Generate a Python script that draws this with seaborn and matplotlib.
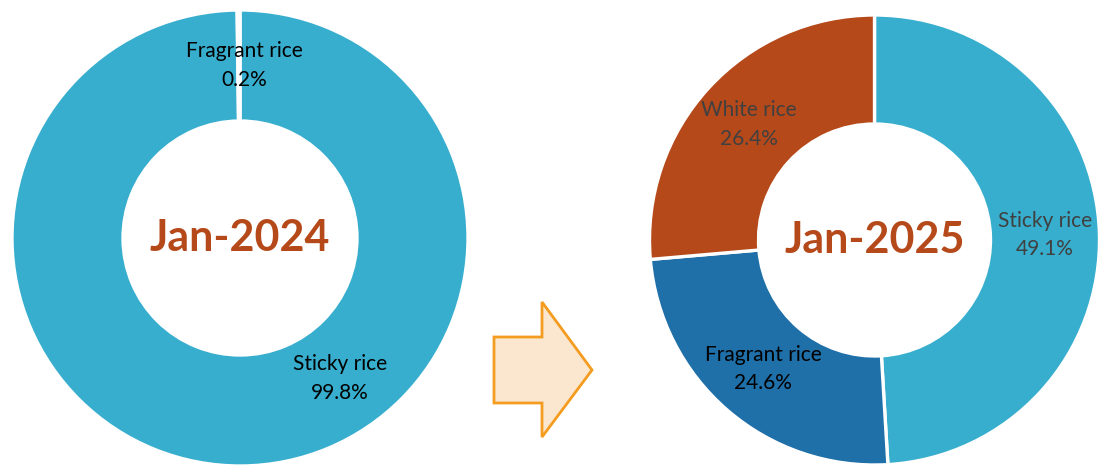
import numpy as np
import matplotlib
matplotlib.use("Agg")
import matplotlib.pyplot as plt
import seaborn as sns
from matplotlib.patches import Polygon

sns.set_theme(style="white")
plt.rcParams['font.family'] = ['Lato', 'DejaVu Sans']

# data
months = ["Jan-2024", "Jan-2025"]
labels_2024 = ["Sticky rice", "Fragrant rice"]
shares_2024 = [99.8, 0.2]
labels_2025 = ["Sticky rice", "Fragrant rice", "White rice"]
shares_2025 = [49.1, 24.6, 26.4]

rice_colors = {"Sticky rice": "#37AECE", "Fragrant rice": "#1F6FA8", "White rice": "#B5491A"}
text_colors_2024 = {"Sticky rice": "black", "Fragrant rice": "black"}
text_colors_2025 = {"Sticky rice": "#404040", "Fragrant rice": "black", "White rice": "#404040"}
title_color = "#B5491A"

W, H = 1099, 465
fig = plt.figure(figsize=(W / 100, H / 100), dpi=100)


def donut(cx, cy, r, r_in, labels, shares, text_colors, month, label_angle=None):
    ax = fig.add_axes([(cx - r) / W, (H - cy - r) / H, 2 * r / W, 2 * r / H])
    wedges, _ = ax.pie(shares, colors=[rice_colors[l] for l in labels], startangle=90,
                       counterclock=False, radius=1,
                       wedgeprops=dict(width=1 - r_in / r, edgecolor="white", linewidth=2.4))
    ax.set_xlim(-1, 1)
    ax.set_ylim(-1, 1)
    ax.set_aspect("equal")
    ax.axis("off")
    rr = (1 + r_in / r) / 2
    for w, lab, val in zip(wedges, labels, shares):
        ang = (w.theta1 + w.theta2) / 2
        if label_angle and lab in label_angle:
            ang = label_angle[lab]
        x, y = rr * np.cos(np.radians(ang)), rr * np.sin(np.radians(ang))
        ax.text(x, y, f"{lab}\n{val:.1f}%", ha="center", va="center", fontsize=15,
                color=text_colors[lab], linespacing=1.55)
    ax.text(0, 0, month, ha="center", va="center", fontsize=31, fontweight="bold",
            color=title_color)
    return ax


donut(240, 238, 228, 117, labels_2024, shares_2024, text_colors_2024, months[0],
      label_angle={"Sticky rice": -54.5, "Fragrant rice": 88.5})
donut(874.5, 240, 225, 116, labels_2025, shares_2025, text_colors_2025, months[1])

# arrow between the two donuts
ov = fig.add_axes([0, 0, 1, 1])
ov.set_xlim(0, W)
ov.set_ylim(H, 0)
ov.axis("off")
arrow_pts = [(494, 337), (542, 337), (542, 302), (592, 370), (542, 437), (542, 403), (494, 403)]
ov.add_patch(Polygon(arrow_pts, closed=True, facecolor="#FBE7CF", edgecolor="#F39C1F",
                     linewidth=2, joinstyle="miter"))

fig.savefig("out.png", dpi=100)
